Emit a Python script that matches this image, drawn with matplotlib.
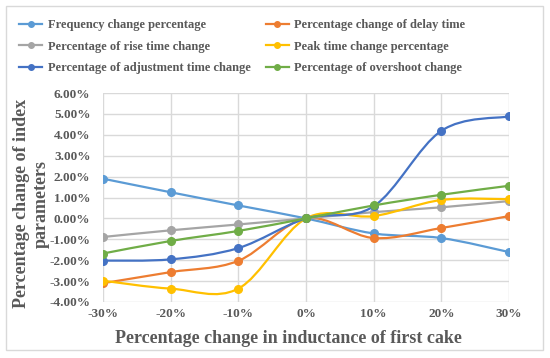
import numpy as np
import matplotlib
matplotlib.use('Agg')
import matplotlib.pyplot as plt
from matplotlib.path import Path
from matplotlib.patches import PathPatch, Rectangle
from matplotlib.lines import Line2D
from matplotlib.ticker import FuncFormatter

plt.rcParams['font.family'] = ['Liberation Serif', 'DejaVu Serif']
plt.rcParams['font.weight'] = 'bold'

# inductance change of first cake (%)
x_vals = [-30, -20, -10, 0, 10, 20, 30]
x_labels = ['-30%', '-20%', '-10%', '0%', '10%', '20%', '30%']

# percentage change of each index parameter (%)
freq = [1.90, 1.25, 0.62, 0.0, -0.72, -0.94, -1.61]
delay = [-3.10, -2.57, -2.03, 0.0, -0.94, -0.46, 0.11]
rise = [-0.89, -0.57, -0.29, 0.0, 0.30, 0.53, 0.83]
peak = [-2.98, -3.36, -3.36, 0.0, 0.11, 0.88, 0.92]
adjust = [-2.02, -1.96, -1.42, 0.0, 0.58, 4.19, 4.88]
overshoot = [-1.68, -1.08, -0.60, 0.0, 0.62, 1.13, 1.56]

series = [
    ('Frequency change percentage', freq, '#5B9BD5'),
    ('Percentage change of delay time', delay, '#ED7D31'),
    ('Percentage of rise time change', rise, '#A5A5A5'),
    ('Peak time change percentage', peak, '#FFC000'),
    ('Percentage of adjustment time change', adjust, '#4472C4'),
    ('Percentage of overshoot change', overshoot, '#70AD47'),
]

text_color = '#595959'

fig = plt.figure(figsize=(5.5, 3.58), dpi=100)
ax = fig.add_axes([103 / 550, 1 - 302 / 358, 406 / 550, 209 / 358])

# chart border
fig.patches.append(Rectangle((6 / 550, 1 - 350 / 358), 537 / 550, 344 / 358,
                             transform=fig.transFigure, fill=False,
                             edgecolor='#D9D9D9', linewidth=1))


def smooth_path(xs, ys):
    # Excel-style smoothed line as cubic Bezier segments
    pts = np.column_stack([xs, ys]).astype(float)
    n = len(pts)
    verts = [pts[0]]
    codes = [Path.MOVETO]
    for i in range(n - 1):
        p0 = pts[i - 1] if i > 0 else pts[i]
        p1 = pts[i]
        p2 = pts[i + 1]
        p3 = pts[i + 2] if i + 2 < n else pts[i + 1]
        c1 = p1 + (p2 - p0) / 6.0
        c2 = p2 - (p3 - p1) / 6.0
        verts += [c1, c2, p2]
        codes += [Path.CURVE4] * 3
    return Path(verts, codes)


handles = []
for name, vals, col in series:
    patch = PathPatch(smooth_path(x_vals, vals), facecolor='none',
                      edgecolor=col, linewidth=1.6, zorder=3)
    ax.add_patch(patch)
    ax.plot(x_vals, vals, 'o', color=col, markersize=5.5, zorder=4)
    handles.append(Line2D([], [], color=col, linewidth=1.6, marker='o',
                          markersize=4, label=name))

ax.set_xlim(-30, 30)
ax.set_ylim(-4, 6)
ax.set_xticks(x_vals)
ax.set_xticklabels(x_labels)
ax.set_yticks(np.arange(-4, 6.01, 1))
ax.yaxis.set_major_formatter(FuncFormatter(lambda v, p: f'{v:.2f}%'))
ax.grid(True, color='#D9D9D9', linewidth=1)
ax.set_axisbelow(True)
for s in ax.spines.values():
    s.set_visible(False)
ax.tick_params(length=0, labelsize=9.5, labelcolor=text_color)
ax.tick_params(axis='y', pad=9)
ax.tick_params(axis='x', pad=4)

ax.set_xlabel('Percentage change in inductance of first cake', fontsize=13,
              color=text_color, fontweight='bold')
ax.xaxis.set_label_coords(0.456, -0.135)
ax.set_ylabel('Percentage change of index\nparameters', fontsize=13,
              color=text_color, fontweight='bold', linespacing=1.2)
ax.yaxis.set_label_coords(-0.132, 0.47)

# legend filled row by row like the original
order = [0, 2, 4, 1, 3, 5]
fig.legend(handles=[handles[i] for i in order], loc='upper left', ncol=2,
           bbox_to_anchor=(19 / 550, 1 - 19 / 358), frameon=False,
           prop={'size': 9, 'weight': 'bold'}, labelcolor=text_color,
           handlelength=1.85, handletextpad=0.45, columnspacing=1.2,
           labelspacing=0.78, borderaxespad=0, borderpad=0)

fig.savefig('out.png', dpi=100)
